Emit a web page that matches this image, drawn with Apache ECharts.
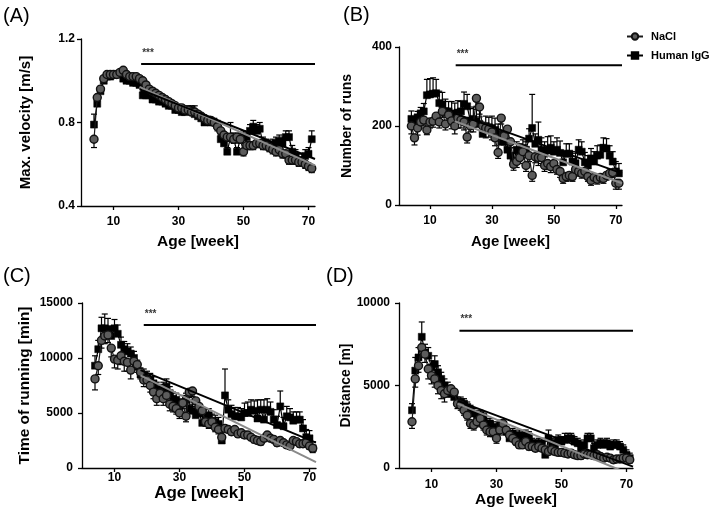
<!DOCTYPE html>
<html><head><meta charset="utf-8">
<script src="https://cdn.jsdelivr.net/npm/echarts@6/dist/echarts.min.js"></script>
<style>html,body{margin:0;padding:0;background:#fff}#c{width:709px;height:512px}</style>
</head><body><div id="c"></div>
<script>
const weeks = [4,5,6,7,8,9,10,11,12,13,
14,15,16,17,18,19,20,21,22,23,
24,25,26,27,28,29,30,31,32,33,
34,35,36,37,38,39,40,41,42,43,
44,45,46,47,48,49,50,51,52,53,
54,55,56,57,58,59,60,61,62,63,
64,65,66,67,68,69,70,71];
const xTicks = [10,30,50,70];
const seriesNames = ['NaCl','Human IgG'];

// (A) Max. velocity
const A_nacl = [0.72,0.92,0.96,1.01,1.03,1.03,1.03,1.03,1.04,1.05,
1.03,1.02,1.02,1.02,1.01,1.00,0.98,0.96,0.95,0.94,
0.93,0.92,0.91,0.90,0.89,0.88,0.87,0.87,0.86,0.86,
0.85,0.85,0.84,0.83,0.82,0.81,0.81,0.80,0.78,0.76,
0.74,0.73,0.73,0.72,0.73,0.72,0.66,0.69,0.69,0.69,
0.70,0.70,0.69,0.69,0.68,0.67,0.66,0.67,0.65,0.65,
0.62,0.62,0.62,0.61,0.61,0.60,0.59,0.58];
const A_nacl_err = [0.04,0.02,0.02,0.01,0.01,0.01,0.01,0.01,0.01,0.01,
0.01,0.01,0.01,0.01,0.01,0.01,0.01,0.01,0.02,0.02,
0.02,0.02,0.01,0.01,0.01,0.01,0.01,0.01,0.01,0.01,
0.01,0.01,0.01,0.01,0.01,0.02,0.01,0.01,0.02,0.02,
0.02,0.02,0.02,0.02,0.02,0.02,0.02,0.02,0.02,0.02,
0.02,0.02,0.02,0.02,0.02,0.02,0.02,0.02,0.02,0.02,
0.02,0.02,0.02,0.02,0.02,0.02,0.02,0.02];
const A_igg = [0.79,0.89,0.95,1.00,1.02,1.02,1.03,1.03,1.03,1.01,
1.00,1.00,0.99,0.99,0.98,0.93,0.93,0.93,0.91,0.91,
0.90,0.90,0.89,0.88,0.88,0.86,0.86,0.85,0.85,0.86,
0.86,0.84,0.83,0.82,0.80,0.81,0.80,0.80,0.79,0.72,
0.70,0.66,0.73,0.72,0.66,0.72,0.73,0.73,0.76,0.78,
0.76,0.77,0.70,0.70,0.68,0.69,0.70,0.71,0.70,0.73,
0.73,0.66,0.64,0.62,0.62,0.64,0.65,0.72];
const A_igg_err = [0.05,0.03,0.02,0.01,0.01,0.01,0.01,0.01,0.01,0.01,
0.01,0.01,0.01,0.01,0.01,0.02,0.01,0.02,0.01,0.01,
0.01,0.01,0.02,0.02,0.02,0.02,0.02,0.02,0.02,0.02,
0.02,0.04,0.02,0.02,0.02,0.02,0.02,0.02,0.02,0.02,
0.03,0.02,0.07,0.03,0.02,0.03,0.03,0.02,0.03,0.03,
0.03,0.03,0.03,0.02,0.03,0.03,0.03,0.03,0.03,0.03,
0.03,0.03,0.03,0.03,0.03,0.03,0.03,0.04];
const A_fit_nacl = [[18,0.97],[72,0.595]];
const A_fit_igg = [[18,0.96],[72,0.625]];

// (B) Number of runs
const B_nacl = [200,170,195,210,215,190,210,212,225,210,
237,205,228,213,200,220,215,210,172,200,
205,270,248,200,195,192,185,170,133,220,
175,192,160,103,110,120,135,100,125,75,
122,120,120,100,105,97,105,90,85,67,
72,75,72,90,85,80,85,72,62,70,
65,70,67,75,80,82,55,55];
const B_nacl_err = [20,18,18,15,15,12,15,15,15,15,
15,15,20,20,20,25,20,20,15,15,
20,20,25,20,25,20,20,20,15,15,
20,25,15,15,15,15,15,15,15,15,
15,20,15,15,15,15,15,12,15,12,
12,12,12,12,12,12,12,12,12,12,
12,12,12,12,12,12,15,15];
const B_igg = [218,205,222,232,237,278,280,282,283,258,
255,238,237,232,228,234,237,256,250,214,
218,212,205,180,200,197,195,190,180,160,
160,140,125,110,140,135,145,140,168,195,
155,165,140,130,138,145,135,140,132,108,
130,130,110,106,140,135,108,100,118,110,
125,127,145,143,125,110,85,80];
const B_igg_err = [20,15,15,15,20,40,40,40,35,30,
30,30,25,30,30,30,25,30,30,30,
30,30,25,25,25,25,30,30,25,25,
25,20,20,20,20,20,20,20,25,85,
25,45,30,30,35,30,25,30,30,25,
25,25,25,25,25,25,25,25,25,25,
25,25,25,25,25,25,25,25];
const B_fit_nacl = [[18,212],[72,55]];
const B_fit_igg = [[18,232],[72,80]];

// (C) Time of running
const C_nacl = [8100,9300,11600,12000,12100,10900,9900,9800,10200,9700,
9600,8900,9700,9400,8700,8000,8000,7500,6900,6300,
6800,6300,6600,5800,5600,5400,5000,5900,4700,6900,
7000,6100,5600,5200,4200,4000,4200,3700,3500,2800,
3600,3500,3300,3500,3100,3200,3000,3000,2800,2600,
2500,2400,2700,3000,2700,2600,2300,2500,2300,2100,
2000,2500,2400,2200,2200,2300,2000,1800];
const C_nacl_err = [1000,800,700,700,700,800,800,800,800,900,
800,800,700,700,600,600,600,600,600,600,
600,600,600,600,500,500,500,500,500,500,
500,500,500,500,400,400,400,400,400,400,
300,300,300,300,300,300,300,300,300,300,
300,300,300,300,300,300,300,300,300,300,
300,300,300,300,300,300,300,400];
const C_igg = [9300,10800,12700,12700,12600,12000,12700,12200,11200,10800,
10600,10400,10000,9200,8500,8400,8200,8000,7700,7200,
7000,7200,7400,6800,6300,6200,5600,6000,6200,5400,
5200,4800,5000,4100,4700,4800,4300,4200,4000,2500,
6600,5300,4900,4700,4700,4600,5000,5000,5300,5200,
4500,5300,4400,5300,5100,4400,3900,5600,3800,4700,
4600,4300,4400,4400,3600,2800,2700,1800];
const C_igg_err = [900,800,1000,1300,1000,900,800,800,700,700,
700,600,600,600,600,600,600,600,600,600,
600,600,700,600,600,600,600,600,600,600,
600,600,600,600,600,600,600,600,600,400,
2400,900,800,800,800,800,900,1000,900,900,
1700,900,1800,1000,900,900,800,1400,800,900,
800,800,700,700,800,700,700,600];
const C_fit_nacl = [[18,8420],[72,530]];
const C_fit_igg = [[18,8900],[72,2300]];

// (D) Distance
const D_nacl = [2800,5400,6200,7300,6900,6000,5600,5400,5000,4700,
4500,4700,4800,4600,3900,3800,3500,3200,2700,2600,
2800,3000,2600,2300,2200,2200,1800,2300,2700,2300,
2000,1800,1600,1400,1400,1600,1300,1300,1200,1300,
1200,1100,1000,1100,1000,950,950,900,850,900,
800,750,750,850,800,800,750,800,700,600,
650,600,500,550,550,600,600,500];
const D_nacl_err = [400,500,400,500,500,600,500,500,500,500,
500,400,400,400,300,300,300,300,300,300,
300,300,300,300,300,300,300,300,300,300,
300,200,200,200,200,200,200,200,200,200,
200,200,200,200,200,200,200,200,200,200,
200,200,200,200,200,200,200,200,200,200,
200,200,200,200,200,200,200,200];
const D_igg = [3500,5900,6700,7950,7000,6800,6100,6300,5800,5400,
5000,4800,4500,4300,4000,4000,3900,3700,3500,3300,
3000,3200,3100,2700,2700,2500,2200,2600,2400,2200,
1800,2100,1700,2000,1800,2000,1900,1500,1400,1500,
1500,800,1800,1500,1400,1700,1600,1700,1800,1800,
1600,1500,1200,1400,1800,1800,1200,1400,1500,1400,
1500,1300,1400,1400,1300,1100,800,600];
const D_igg_err = [400,800,600,900,500,500,400,500,400,400,
400,400,400,400,300,300,300,300,300,300,
300,300,300,300,300,300,300,300,300,300,
300,300,300,300,300,300,300,300,300,300,
300,300,500,300,300,300,300,400,300,300,
300,300,300,300,300,300,300,300,300,300,
300,300,300,300,300,300,300,300];
const D_fit_nacl = [[18,3900],[72,-440]];
const D_fit_igg = [[18,4070],[72,80]];

// significance bars: [start week, end week, y value]
const A_sig = [18.5, 72, 1.08];
const B_sig = [18.3, 72, 354];
const C_sig = [19, 72, 13000];
const D_sig = [18.6, 72, 8320];
const sigText = '***';

const FONT = 'Liberation Sans, Arial, sans-serif';

const panels = [
  {label:'(A)', lx:3, ly:6, grid:{left:81,top:39,width:234,height:167}, yMin:0.4, yMax:1.2, yInt:0.4, yFmt:v=>v.toFixed(1),
   yName:'Max. velocity [m/s]', yNameSize:15, yNameGap:48, yLabMargin:6, xLabMargin:10, xNameGap:28, xNameSize:15.5,
   nacl:A_nacl, naclErr:A_nacl_err, igg:A_igg, iggErr:A_igg_err, fitN:A_fit_nacl, fitI:A_fit_igg, sig:A_sig},
  {label:'(B)', lx:343, ly:5, grid:{left:399,top:47,width:223,height:158}, yMin:0, yMax:400, yInt:200, yFmt:v=>String(v),
   yName:'Number of runs', yNameSize:14, yNameGap:45, yLabMargin:7, xLabMargin:10, xNameGap:29, xNameSize:15,
   nacl:B_nacl, naclErr:B_nacl_err, igg:B_igg, iggErr:B_igg_err, fitN:B_fit_nacl, fitI:B_fit_igg, sig:B_sig},
  {label:'(C)', lx:3, ly:266, grid:{left:82,top:303,width:234,height:165}, yMin:0, yMax:15000, yInt:5000, yFmt:v=>String(v),
   yName:'Time of running [min]', yNameSize:15.4, yNameGap:50, yLabMargin:9, xLabMargin:4, xNameGap:15, xNameSize:17,
   nacl:C_nacl, naclErr:C_nacl_err, igg:C_igg, iggErr:C_igg_err, fitN:C_fit_nacl, fitI:C_fit_igg, sig:C_sig},
  {label:'(D)', lx:326, ly:266, grid:{left:399,top:303,width:234,height:165}, yMin:0, yMax:10000, yInt:5000, yFmt:v=>String(v),
   yName:'Distance [m]', yNameSize:14, yNameGap:46, yLabMargin:9, xLabMargin:11, xNameGap:22, xNameSize:15.5,
   nacl:D_nacl, naclErr:D_nacl_err, igg:D_igg, iggErr:D_igg_err, fitN:D_fit_nacl, fitI:D_fit_igg, sig:D_sig}
];

function errRender(params, api) {
  const x = api.value(0), y = api.value(1), e = api.value(2), d = api.value(3);
  const p0 = api.coord([x, y]);
  const p1 = api.coord([x, y + d * e]);
  const st = {stroke:'#000', lineWidth:1.2};
  return {type:'group', children:[
    {type:'line', shape:{x1:p0[0], y1:p0[1], x2:p1[0], y2:p1[1]}, style:st},
    {type:'line', shape:{x1:p1[0]-3, y1:p1[1], x2:p1[0]+3, y2:p1[1]}, style:st}
  ]};
}

const option = {
  animation:false,
  backgroundColor:'#fff',
  grid:[], xAxis:[], yAxis:[], series:[],
  graphic: [],
  legend:{
    orient:'vertical', left:621, top:26, itemWidth:16, itemHeight:8, itemGap:8,
    data:seriesNames, selectedMode:false,
    textStyle:{fontFamily:FONT, fontWeight:'bold', fontSize:11, color:'#000', padding:[0,0,0,3]}
  }
};

panels.forEach((p, i) => {
  option.grid.push(Object.assign({containLabel:false}, p.grid));
  option.graphic.push({type:'text', left:p.lx, top:p.ly, style:{text:p.label, font:'20px ' + FONT, fill:'#000'}});
  option.xAxis.push({
    type:'value', gridIndex:i, min:0, max:72,
    name:'Age [week]', nameLocation:'middle', nameGap:p.xNameGap,
    nameTextStyle:{fontFamily:FONT, fontWeight:'bold', fontSize:p.xNameSize, color:'#000'},
    axisLine:{lineStyle:{color:'#000', width:1.3}},
    axisTick:{show:true, inside:false, length:4, customValues:xTicks, lineStyle:{color:'#000', width:1.3}},
    axisLabel:{customValues:xTicks, margin:p.xLabMargin, fontFamily:FONT, fontWeight:'bold', fontSize:12, color:'#000'},
    splitLine:{show:false}
  });
  option.yAxis.push({
    type:'value', gridIndex:i, min:p.yMin, max:p.yMax, interval:p.yInt,
    name:p.yName, nameLocation:'middle', nameGap:p.yNameGap,
    nameTextStyle:{fontFamily:FONT, fontWeight:'bold', fontSize:p.yNameSize, color:'#000'},
    axisLine:{show:true, lineStyle:{color:'#000', width:1.3}},
    axisTick:{show:true, inside:false, length:4, lineStyle:{color:'#000', width:1.3}},
    axisLabel:{margin:p.yLabMargin, formatter:p.yFmt, fontFamily:FONT, fontWeight:'bold', fontSize:12, color:'#000'},
    splitLine:{show:false}
  });
  // error bars
  option.series.push({
    type:'custom', xAxisIndex:i, yAxisIndex:i, renderItem:errRender, z:1, silent:true,
    encode:{x:0, y:1},
    data: weeks.map((w, k) => [w, p.nacl[k], p.naclErr[k], -1])
  });
  option.series.push({
    type:'custom', xAxisIndex:i, yAxisIndex:i, renderItem:errRender, z:1, silent:true,
    encode:{x:0, y:1},
    data: weeks.map((w, k) => [w, p.igg[k], p.iggErr[k], 1])
  });
  option.series.push({
    name:'Human IgG', type:'line', xAxisIndex:i, yAxisIndex:i, z:2,
    symbol:'rect', symbolSize:7, showAllSymbol:true,
    lineStyle:{color:'#000', width:1.2},
    itemStyle:{color:'#000', borderColor:'#000', borderWidth:0.5},
    data: weeks.map((w, k) => [w, p.igg[k]])
  });
  option.series.push({
    name:'NaCl', type:'line', xAxisIndex:i, yAxisIndex:i, z:3,
    symbol:'circle', symbolSize:8, showAllSymbol:true,
    lineStyle:{color:'#1a1a1a', width:1.2},
    itemStyle:{color:'#5c5c5c', borderColor:'#111', borderWidth:1.4},
    data: weeks.map((w, k) => [w, p.nacl[k]])
  });
  // regression lines
  option.series.push({
    type:'line', xAxisIndex:i, yAxisIndex:i, z:4, symbol:'none', silent:true,
    lineStyle:{color:'#8a8a8a', width:2}, data:p.fitN
  });
  option.series.push({
    type:'line', xAxisIndex:i, yAxisIndex:i, z:5, symbol:'none', silent:true,
    lineStyle:{color:'#000', width:2}, data:p.fitI
  });
  // significance bar
  option.series.push({
    type:'line', xAxisIndex:i, yAxisIndex:i, z:5, symbol:'none', silent:true,
    lineStyle:{color:'#000', width:2},
    data:[[p.sig[0], p.sig[2]], [p.sig[1], p.sig[2]]]
  });
  option.series.push({
    type:'scatter', xAxisIndex:i, yAxisIndex:i, z:6, silent:true,
    symbolSize:2, itemStyle:{color:'rgba(0,0,0,0)'},
    label:{show:true, formatter:sigText, position:'right', distance:0, offset:[0,-11],
      fontFamily:FONT, fontWeight:'bold', fontSize:10, color:'#000'},
    data:[[p.sig[0], p.sig[2]]]
  });
});

const chart = echarts.init(document.getElementById('c'), null, {renderer:'canvas'});
chart.setOption(option);
</script>
</body></html>
